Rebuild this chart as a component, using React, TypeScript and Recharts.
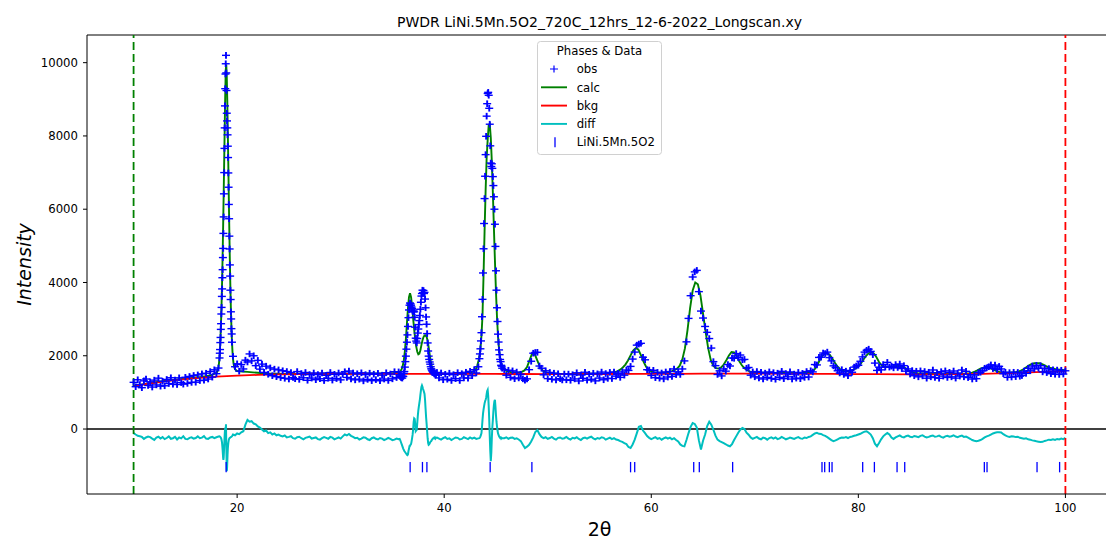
import React from 'react';
import { ComposedChart, Line, Scatter, XAxis, YAxis, ReferenceLine } from 'recharts';

// ---------- axes ----------
const X_DOMAIN: [number, number] = [5.5, 104.5];
const Y_DOMAIN: [number, number] = [-1773, 10755];
const X_TICKS = [20, 40, 60, 80, 100];
const Y_TICKS = [0, 2000, 4000, 6000, 8000, 10000];
const LIMIT_LOW = 10;
const LIMIT_HIGH = 100;
const PHASE_TICK_LEVEL = -1040;

const TITLE = 'PWDR LiNi.5Mn.5O2_720C_12hrs_12-6-2022_Longscan.xy';
const PHASE_NAME = 'LiNi.5Mn.5O2';

// ---------- observed intensity & difference (scan segments) ----------
// 10.0 .. 18.2 step 0.2
const obsA = [1275,1155,1345,1215,1128,1315,1365,1189,1290,1146,
  1335,1204,1389,1170,1304,1181,1354,1242,1400,1223,
  1340,1215,1398,1267,1225,1413,1246,1435,1273,1462,
  1278,1478,1323,1506,1332,1523,1365,1569,1416,1617,
  1510,1665];
const diffA = [-110,-150,-185,-195,-215,-270,-230,-205,-220,-260,
  -295,-235,-210,-260,-220,-275,-245,-200,-265,-250,
  -215,-285,-230,-255,-195,-270,-280,-240,-225,-260,
  -245,-200,-250,-235,-195,-260,-270,-230,-215,-250,
  -225,-205];
// 18.3 .. 19.5 step 0.025
const obsP1 = [1940,2070,2170,2360,2500,2720,2875,3140,3320,3620,
  3825,4130,4350,4680,4930,5340,5790,6420,7000,7660,
  8220,8820,9290,9690,9970,10200,9720,9240,8620,8410,
  8220,8030,7720,7410,6990,6600,6130,5740,5265,4915,
  4480,4175,3790,3535,3200,3005,2740,2595,2370];
const diffP1 = [-200,-205,-210,-215,-225,-235,-250,-270,-300,-340,
  -400,-480,-570,-680,-790,-840,-780,-640,-470,-300,
  -150,-40,20,30,0,130,-400,-750,-1150,-1080,
  -900,-700,-550,-450,-380,-330,-290,-270,-255,-245,
  -240,-235,-230,-225,-220,-215,-210,-205,-200];
// 19.6 .. 35.6 step 0.2
const obsB = [1985,1700,1780,1580,1760,1640,1880,1830,2050,1860,
  2000,1730,1874,1635,1772,1546,1716,1495,1669,1456,
  1635,1429,1615,1405,1591,1385,1570,1365,1544,1405,
  1373,1569,1356,1515,1399,1544,1331,1487,1390,1530,
  1346,1487,1372,1530,1323,1467,1386,1544,1336,1494,
  1377,1530,1342,1496,1564,1408,1583,1370,1531,1342,
  1509,1361,1535,1315,1485,1355,1525,1321,1497,1349,
  1520,1318,1470,1364,1536,1326,1502,1370,1565,1405,
  1560];
const diffB = [-150,-170,-120,-140,-90,-60,120,250,200,215,
  150,130,70,40,-10,-60,-40,-110,-90,-150,
  -120,-170,-150,-185,-200,-175,-230,-215,-195,-250,
  -265,-225,-210,-250,-280,-240,-225,-205,-260,-245,
  -230,-275,-290,-250,-220,-240,-265,-215,-235,-280,
  -255,-230,-260,-200,-150,-175,-135,-185,-215,-250,
  -240,-285,-260,-225,-235,-280,-300,-250,-230,-265,
  -285,-245,-260,-300,-275,-240,-270,-305,-290,-260,
  -280];
// 35.7 .. 39.2 step 0.05
const obsP2 = [1480,1430,1475,1400,1445,1390,1440,1435,1520,1570,
  1690,1840,1990,2180,2370,2570,2800,3040,3250,3380,
  3440,3420,3380,3330,3290,3220,3200,3250,3200,3050,
  2780,2480,2400,2350,2470,2620,2730,2850,2960,3100,
  3270,3460,3630,3700,3790,3720,3780,3700,3730,3548,
  3310,3060,2860,2605,2350,2130,1990,1900,1830,1770,
  1700,1645,1610,1585,1560,1545,1530,1505,1510,1471,
  1482];
const diffP2 = [-270,-300,-340,-380,-420,-460,-500,-540,-570,-600,
  -620,-640,-660,-680,-700,-710,-690,-600,-540,-465,
  -460,-425,-410,-335,-250,-155,-10,190,290,275,
  140,-60,-40,-20,170,355,500,610,710,805,
  930,1050,1150,1190,1150,1100,1060,1010,960,800,
  560,330,150,-50,-250,-380,-430,-420,-390,-360,
  -340,-330,-300,-280,-260,-250,-240,-250,-230,-260,
  -240];
// 39.3 .. 43.3 step 0.2
const obsC = [1545,1395,1531,1345,1495,1359,1525,1325,1485,1375,
  1539,1325,1511,1395,1550,1390,1575,1455,1620,1530,1700];
const diffC = [-235,-260,-290,-250,-225,-270,-255,-300,-265,-230,
  -240,-285,-270,-225,-250,-275,-230,-260,-235,-270,-255];
// 43.4 .. 45.6 step 0.05
const obsP3 = [1920,2050,2190,2405,2630,3065,3540,4260,4920,5610,
  6290,6900,7490,7990,8540,8880,9160,9190,9110,8755,
  8320,7730,7260,7165,7240,7115,6890,6645,6340,6000,
  5590,4985,4320,3790,3310,2935,2590,2375,2160,2030,
  1900,1840,1740,1715,1660];
const diffP3 = [-250,-230,-200,-160,-110,50,250,420,530,620,
  700,760,800,850,950,1040,1070,900,620,250,
  -200,-600,-880,-650,-250,50,250,480,650,760,
  800,620,380,200,70,-40,-120,-160,-200,-220,
  -240,-230,-260,-240,-250];
// 45.8 .. 100.0 step 0.2
const obsD = [1621,1469,1605,1410,1588,1373,1555,1395,1496,1370,
  1330,1370,1620,1850,2070,2090,2095,1720,1660,1480,
  1590,1376,1545,1359,1525,1341,1509,1375,1340,1501,
  1344,1500,1330,1484,1368,1536,1312,1476,1384,1550,
  1335,1495,1359,1523,1315,1507,1391,1555,1345,1515,
  1383,1547,1378,1556,1444,1520,1410,1560,1470,1610,
  1600,1710,1910,2100,2290,2320,2340,1960,1890,1620,
  1611,1463,1603,1402,1547,1388,1530,1368,1558,1419,
  1570,1436,1640,1485,1560,1490,1640,1860,2380,3020,
  3640,4150,4290,4330,3750,3220,3030,2800,2640,2470,
  2210,1840,1730,1490,1590,1450,1640,1580,1760,1720,
  1940,1930,2060,1950,2020,1890,1900,1660,1680,1470,
  1560,1426,1570,1394,1550,1366,1526,1410,1560,1380,
  1539,1359,1525,1411,1575,1375,1515,1425,1559,1365,
  1500,1390,1546,1374,1520,1410,1570,1420,1590,1560,
  1760,1750,1955,1960,2075,2060,2100,1950,1860,1725,
  1680,1590,1530,1620,1490,1580,1455,1600,1550,1690,
  1720,1740,1850,1970,2100,2150,2180,2120,2030,1800,
  1600,1690,1615,1760,1690,1820,1690,1715,1670,1760,
  1680,1775,1650,1730,1580,1640,1500,1595,1455,1578,
  1425,1588,1450,1570,1388,1550,1425,1612,1405,1538,
  1386,1566,1445,1588,1408,1548,1425,1584,1390,1526,
  1445,1612,1425,1575,1405,1482,1365,1478,1375,1540,
  1550,1590,1660,1670,1700,1750,1650,1745,1620,1710,
  1640,1510,1550,1410,1540,1420,1550,1430,1545,1440,
  1460,1580,1520,1660,1590,1720,1640,1740,1660,1730,
  1560,1660,1540,1650,1510,1620,1495,1610,1490,1605,
  1500,1590];
const diffD = [-250,-225,-265,-240,-230,-270,-255,-285,-330,-430,
  -520,-480,-430,-340,-230,-80,-30,-140,-215,-250,
  -225,-270,-245,-215,-260,-290,-240,-230,-265,-250,
  -215,-260,-285,-240,-255,-225,-270,-300,-250,-235,
  -260,-230,-210,-255,-280,-245,-265,-225,-240,-290,
  -260,-235,-275,-250,-285,-300,-330,-350,-385,-410,
  -490,-515,-420,-290,-120,60,80,-40,-110,-190,
  -240,-275,-250,-220,-265,-245,-290,-255,-230,-260,
  -235,-280,-250,-300,-340,-420,-460,-470,-300,-110,
  60,165,140,40,-310,-560,-320,-150,80,200,
  120,-20,-180,-290,-330,-355,-385,-415,-450,-470,
  -410,-300,-200,-100,-20,30,0,-100,-155,-230,
  -265,-240,-215,-260,-280,-235,-250,-290,-245,-225,
  -260,-230,-275,-255,-215,-245,-280,-260,-235,-250,
  -270,-240,-220,-255,-265,-230,-245,-215,-200,-160,
  -120,-105,-130,-135,-165,-185,-220,-260,-300,-330,
  -310,-280,-250,-230,-240,-220,-245,-215,-205,-185,
  -170,-150,-130,-100,-70,-60,-100,-150,-250,-400,
  -470,-380,-280,-200,-150,-110,-150,-230,-270,-230,
  -200,-175,-215,-230,-195,-180,-210,-225,-190,-205,
  -220,-185,-170,-205,-230,-215,-190,-175,-210,-200,
  -180,-215,-235,-200,-185,-210,-195,-170,-205,-220,
  -195,-180,-215,-205,-235,-265,-300,-320,-330,-320,
  -300,-270,-230,-200,-180,-150,-120,-100,-90,-85,
  -95,-140,-175,-200,-215,-195,-205,-220,-210,-240,
  -250,-265,-255,-280,-290,-310,-320,-335,-345,-355,
  -350,-325,-310,-290,-300,-280,-295,-270,-285,-260,
  -275,-240];

// ---------- calculated profile (own grid) ----------
const calcA = [1170,1200,1225,1248,1270,1290,1310,1328,1345,1360,1375,1390,1405,1420,1440,1470]; // 10..17.5 /0.5
const calcP1 = [1530,1550,1580,1630,1700,1800,1950,2200,2550,2950,
  3450,4050,4750,5550,6400,7300,8200,9100,9800,9950,
  9600,8950,8100,7200,6250,5350,4550,3850,3250,2780,
  2400,2120,1930,1800,1720,1670,1640,1620,1605,1595,1585]; // 18..20 /0.05
const calcB = [1570,1560,1548,1535,1522,1514,1510,1508,1507,1507,
  1507,1508,1508,1509,1509,1510,1510,1510,1511,1511,
  1512,1512,1513,1513,1514,1515,1516,1518,1522,1527,1537]; // 20.5..35.5 /0.5
const calcP2 = [1545,1560,1590,1640,1730,1880,2120,2460,2880,3300,
  3600,3710,3600,3350,3020,2720,2450,2250,2110,2040,
  2060,2150,2290,2420,2510,2555,2560,2520,2410,2230,
  2030,1850,1720,1630,1580,1550,1532,1522,1515]; // 35.6..39.4 /0.1
const calcC = [1512,1507,1505,1505,1508,1515,1530,1600]; // 39.5..43.0 /0.5
const calcP3 = [1660,1740,1840,1980,2200,2550,3100,4200,5400,6500,
  7400,7900,8300,8330,7950,7300,6450,5500,4600,3750,
  3050,2520,2170,1950,1810,1720,1665,1630,1605]; // 43.1..45.9 /0.1
const calcD = [1590,1565,1550,1542,1540,1545,1560,1600,
  1690,1880,2070,2040,1870,1700,1600,1555,
  1535,1522,1515,1510,1508,1507,1507,1507,
  1507,1507,1507,1507,1507,1507,1507,1508,
  1508,1508,1509,1509,1510,1512,1515,1520,
  1528,1540,1555,1580,1620,1680,1760,1870,
  2010,2140,2210,2170,2020,1840,1700,1620,
  1575,1550,1540,1535,1535,1540,1548,1560,
  1580,1605,1650,1730,1900,2200,2700,3300,
  3780,4000,3950,3650,3150,2650,2200,1880,
  1720,1660,1650,1680,1760,1880,2010,2100,
  2090,1990,1850,1740,1660,1610,1575,1555,
  1545,1540,1538,1536,1535,1534,1533,1532,
  1531,1530,1530,1530,1530,1530,1530,1530,
  1530,1531,1532,1533,1535,1545,1565,1620,
  1720,1870,1990,2060,2075,2020,1920,1800,
  1700,1630,1590,1575,1575,1590,1615,1655,
  1710,1790,1900,2000,2070,2095,2060,1960,
  1830,1740,1700,1690,1695,1705,1715,1722,
  1720,1705,1670,1620,1575,1545,1530,1522,
  1518,1515,1513,1512,1512,1512,1512,1512,
  1512,1512,1512,1512,1512,1512,1512,1512,
  1512,1513,1515,1525,1540,1565,1600,1640,
  1670,1685,1685,1665,1630,1595,1565,1548,
  1540,1537,1538,1542,1550,1560,1575,1600,
  1640,1690,1740,1775,1795,1800,1795,1770,
  1735,1700,1675,1655,1640,1630,1620,1610,
  1600]; // 46..100 /0.25

// ---------- background ----------
const bkgX = [10,11,12,13,14,15,16,17,18,19,20,22,24,26,30,35,40,45,50,55,60,65,70,75,80,85,88,90,92,94,96,98,100];
const bkgY = [1170,1220,1262,1300,1333,1362,1388,1410,1430,1445,1458,1478,1492,1500,1507,1508,1506,1503,1501,1502,1505,1510,1512,1508,1500,1492,1492,1497,1507,1522,1540,1560,1580];

// ---------- reflection positions ----------
const reflections = [18.94,36.71,37.90,38.33,44.44,48.47,58.00,58.40,64.10,64.64,67.86,
  76.49,76.75,77.20,77.46,80.42,81.55,83.74,84.48,92.17,92.43,97.26,99.44];

// ---------- build tables ----------
const scanSegments = [
  { start: 10.0, step: 0.2, obs: obsA, diff: diffA },
  { start: 18.3, step: 0.025, obs: obsP1, diff: diffP1 },
  { start: 19.6, step: 0.2, obs: obsB, diff: diffB },
  { start: 35.7, step: 0.05, obs: obsP2, diff: diffP2 },
  { start: 39.3, step: 0.2, obs: obsC, diff: diffC },
  { start: 43.4, step: 0.05, obs: obsP3, diff: diffP3 },
  { start: 45.8, step: 0.2, obs: obsD, diff: diffD },
];
const calcSegments = [
  { start: 10, step: 0.5, v: calcA },
  { start: 18, step: 0.05, v: calcP1 },
  { start: 20.5, step: 0.5, v: calcB },
  { start: 35.6, step: 0.1, v: calcP2 },
  { start: 39.5, step: 0.5, v: calcC },
  { start: 43.1, step: 0.1, v: calcP3 },
  { start: 46, step: 0.25, v: calcD },
];
const rx = (s: number, st: number, i: number) => Math.round((s + i * st) * 1000) / 1000;
const obsData = scanSegments.flatMap((s) => s.obs.map((y, i) => ({ x: rx(s.start, s.step, i), y })));
const diffData = scanSegments.flatMap((s) => s.diff.map((y, i) => ({ x: rx(s.start, s.step, i), y })));
const calcData = calcSegments.flatMap((s) => s.v.map((y, i) => ({ x: rx(s.start, s.step, i), y })));
const bkgData = bkgX.map((x, i) => ({ x, y: bkgY[i] }));
const tickData = reflections.map((x) => ({ x, y: PHASE_TICK_LEVEL }));

const COLORS = { obs: '#0000ff', calc: '#008000', bkg: '#ff0000', diff: '#00bfbf', phase: '#0000ff' };
const FONT = 'DejaVu Sans, Liberation Sans, sans-serif';

const Plus = (p: any) => (
  <g>
    <path d={`M${p.cx - 4},${p.cy}h8`} stroke={COLORS.obs} strokeWidth={1.4} fill="none" />
    <path d={`M${p.cx},${p.cy - 3.3}v6.6`} stroke={COLORS.obs} strokeWidth={1.9} fill="none" />
  </g>
);
const VTick = (p: any) => (
  <path d={`M${p.cx},${p.cy - 5.2}v10.4`} stroke={COLORS.phase} strokeWidth={1.3} fill="none" />
);

const legendItems = [
  { label: 'obs', kind: 'plus', color: COLORS.obs },
  { label: 'calc', kind: 'line', color: COLORS.calc },
  { label: 'bkg', kind: 'line', color: COLORS.bkg },
  { label: 'diff', kind: 'line', color: COLORS.diff },
  { label: PHASE_NAME, kind: 'tick', color: COLORS.phase },
];

export default function App() {
  const tickStyle = { fill: '#000', fontSize: 11.7, fontFamily: FONT };
  return (
    <div style={{ position: 'absolute', left: 0, top: 0, width: 1106, height: 539, overflow: 'hidden', background: '#fff' }}>
      <ComposedChart width={1130} height={539} margin={{ top: 35, right: 18, bottom: 15, left: 27 }}>
        <XAxis type="number" dataKey="x" domain={X_DOMAIN} ticks={X_TICKS} allowDataOverflow
          height={30} tick={tickStyle} tickSize={4} tickMargin={6}
          axisLine={{ stroke: '#000' }} tickLine={{ stroke: '#000' }} />
        <YAxis type="number" domain={Y_DOMAIN} ticks={Y_TICKS} allowDataOverflow
          width={60} tick={tickStyle} tickSize={4} tickMargin={5}
          axisLine={{ stroke: '#000' }} tickLine={{ stroke: '#000' }} />
        <ReferenceLine y={Y_DOMAIN[1]} stroke="#000" strokeWidth={1} />
        <Scatter data={obsData} dataKey="y" shape={Plus} isAnimationActive={false} />
        <Line data={calcData} dataKey="y" type="linear" stroke={COLORS.calc} strokeWidth={1.9} dot={false} isAnimationActive={false} />
        <Line data={bkgData} dataKey="y" type="monotone" stroke={COLORS.bkg} strokeWidth={1.8} dot={false} isAnimationActive={false} />
        <ReferenceLine y={0} stroke="#000" strokeWidth={1.6} />
        <Line data={diffData} dataKey="y" type="linear" stroke={COLORS.diff} strokeWidth={2} dot={false} isAnimationActive={false} />
        <Scatter data={tickData} dataKey="y" shape={VTick} isAnimationActive={false} />
        <ReferenceLine x={LIMIT_LOW} stroke={COLORS.calc} strokeWidth={1.8} strokeDasharray="8 4" />
        <ReferenceLine x={LIMIT_HIGH} stroke={COLORS.bkg} strokeWidth={1.8} strokeDasharray="8 4" />
      </ComposedChart>
      <svg width={1106} height={539} style={{ position: 'absolute', left: 0, top: 0, pointerEvents: 'none' }} fontFamily={FONT}>
        <text x={599.5} y={27} textAnchor="middle" fontSize={14} fill="#000">{TITLE}</text>
        <text transform="translate(30.5,264.5) rotate(-90)" textAnchor="middle" fontSize={19} fontStyle="italic" fill="#000">Intensity</text>
        <text x={599.5} y={536} textAnchor="middle" fontSize={19} fill="#000">2θ</text>
        <g>
          <rect x={537.5} y={41.5} width={124} height={113} rx={3} fill="#fff" fillOpacity={0.8} stroke="#d0d0d0" />
          <text x={599.5} y={55} textAnchor="middle" fontSize={11.7} fill="#000">Phases &amp; Data</text>
          {legendItems.map((it, i) => {
            const cy = 69 + i * 18.3;
            return (
              <g key={it.label}>
                {it.kind === 'plus' && <path d={`M${550},${cy}h8M${554},${cy - 3.5}v7`} stroke={it.color} strokeWidth={1.2} />}
                {it.kind === 'line' && <line x1={541} x2={567} y1={cy} y2={cy} stroke={it.color} strokeWidth={1.9} />}
                {it.kind === 'tick' && <line x1={555} x2={555} y1={cy - 5} y2={cy + 5} stroke={it.color} strokeWidth={1.3} />}
                <text x={576.7} y={cy + 4.25} fontSize={11.7} fill="#000">{it.label}</text>
              </g>
            );
          })}
        </g>
      </svg>
    </div>
  );
}
